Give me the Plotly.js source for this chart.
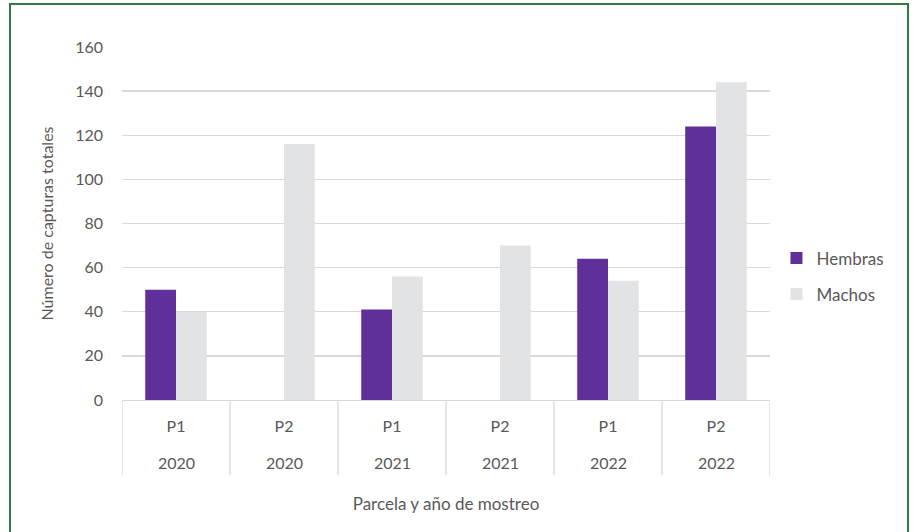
<!DOCTYPE html>
<html>
<head>
<meta charset="utf-8">
<script src="https://cdn.plot.ly/plotly-3.0.1.min.js"></script>
<style>
  html, body { margin: 0; padding: 0; background: #ffffff; }
  #frame { position: absolute; left: 9px; top: 3px; width: 900px; height: 540px; border: 2px solid #2f7a45; box-sizing: border-box; }
  #chart { position: absolute; left: 0; top: 0; width: 920px; height: 532px; }
</style>
</head>
<body>
<div id="frame"></div>
<div id="chart"></div>
<script>
const parcels = ["P1", "P2", "P1", "P2", "P1", "P2"];
const years = ["2020", "2020", "2021", "2021", "2022", "2022"];
const hembras = [50, 0, 41, 0, 64, 124];
const machos = [40, 116, 56, 70, 54, 144];
const yTicks = [0, 20, 40, 60, 80, 100, 120, 140, 160];

const cats = parcels.map((p, i) => p + " " + years[i]);

const fam = "Lato, 'Open Sans', sans-serif";
const font = { family: fam, size: 16, color: "#595959" };
const bigFont = { family: fam, size: 17, color: "#595959" };

const traces = [
  { type: "bar", name: "Hembras", legendgroup: "h", x: cats, y: hembras, marker: { color: "#60309a" }, hoverinfo: "skip" },
  { type: "bar", name: "Machos", legendgroup: "m", x: cats, y: machos, marker: { color: "#e2e3e5" }, hoverinfo: "skip" }
];

const shapes = [];
for (let i = 0; i <= cats.length; i++) {
  shapes.push({
    type: "line", xref: "x", yref: "paper",
    x0: i - 0.5, x1: i - 0.5, y0: 0, y1: -0.213,
    line: { color: "#d9d9d9", width: 1.3 }
  });
}

const annotations = cats.map((c, i) => ({
  x: c, xref: "x", y: -0.176, yref: "paper", yanchor: "middle", xanchor: "center",
  text: years[i], showarrow: false, font: font
}));

const layout = {
  width: 920, height: 532,
  margin: { l: 122, r: 150, t: 47, b: 132 },
  paper_bgcolor: "rgba(0,0,0,0)",
  plot_bgcolor: "rgba(0,0,0,0)",
  font: font,
  barmode: "group",
  bargap: 0.43,
  bargroupgap: 0,
  showlegend: true,
  legend: { x: 1.01, xanchor: "left", y: 0.35, yanchor: "middle", font: bigFont, tracegroupgap: 11, itemwidth: 30 },
  xaxis: {
    type: "category",
    range: [-0.5, cats.length - 0.5],
    tickmode: "array", tickvals: cats, ticktext: parcels,
    ticks: "", showgrid: false, zeroline: false,
    showline: true, linecolor: "#d9d9d9", linewidth: 1.3,
    ticklabelstandoff: 11,
    tickfont: font,
    title: { text: "Parcela y año de mostreo", font: bigFont, standoff: 64 }
  },
  yaxis: {
    range: [0, 160],
    tickmode: "array", tickvals: yTicks,
    ticks: "", showline: false, zeroline: false,
    gridcolor: "#dcd8d6", gridwidth: 1.3,
    ticklabelstandoff: 18,
    tickfont: font,
    title: { text: "Número de capturas totales", font: font, standoff: 17 }
  },
  annotations: annotations,
  shapes: shapes
};

Plotly.newPlot("chart", traces, layout, { staticPlot: true, displayModeBar: false });
</script>
</body>
</html>
